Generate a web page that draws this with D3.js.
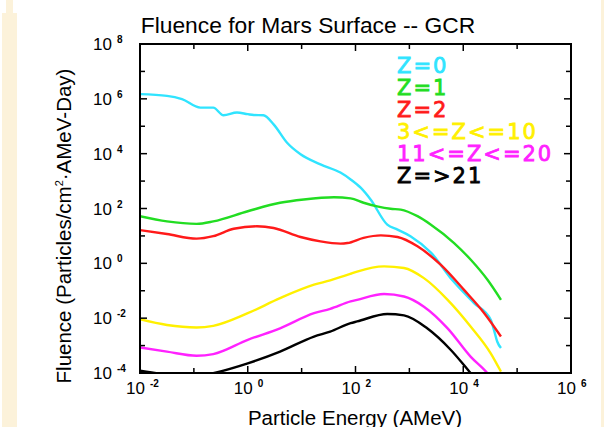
<!DOCTYPE html>
<html><head><meta charset="utf-8">
<script src="https://cdn.jsdelivr.net/npm/d3@7"></script>
<style>
html,body{margin:0;padding:0;background:#fff;}
svg{display:block;}
</style></head>
<body>
<svg id="chart" width="604" height="427"></svg>
<script>
// ---- data (log10 of energy in AMeV, log10 of fluence) ----
const seriesNames = ["Z=0", "Z=1", "Z=2", "3<=Z<=10", "11<=Z<=20", "Z=>21"];
const seriesColors = ["#30E4FF", "#22DD22", "#FF1A1A", "#FFF000", "#FF22FF", "#000000"];

const z0LogE = [-2, -1.5, -1.22, -0.88, -0.64, -0.45, -0.2, 0.0, 0.11, 0.29, 0.48, 0.73, 0.98, 1.35, 1.72, 1.91, 2.1, 2.28, 2.59, 2.78, 3.02, 3.4, 3.8, 4.2, 4.51, 4.57, 4.63, 4.7];
const z0LogF = [6.17, 6.11, 5.99, 5.68, 5.68, 5.40, 5.50, 5.44, 5.41, 5.40, 5.07, 4.40, 3.98, 3.61, 3.31, 3.06, 2.75, 2.33, 1.41, 1.23, 0.99, 0.39, -0.62, -1.45, -2.06, -2.43, -2.85, -3.09];

const z1LogE = [-2, -1.5, -0.95, -0.64, 0.0, 0.6, 1.04, 1.6, 1.91, 2.15, 2.4, 2.65, 2.84, 3.15, 3.4, 3.83, 4.14, 4.45, 4.7];
const z1LogF = [1.72, 1.53, 1.44, 1.53, 1.90, 2.21, 2.33, 2.41, 2.37, 2.21, 2.08, 1.99, 1.96, 1.72, 1.41, 0.74, 0.13, -0.60, -1.33];

const z2LogE = [-2, -1.5, -0.95, -0.64, -0.26, 0.17, 0.48, 0.98, 1.35, 1.72, 1.85, 2.15, 2.47, 2.78, 3.15, 3.58, 4.01, 4.39, 4.7];
const z2LogF = [1.21, 1.07, 0.90, 0.99, 1.26, 1.35, 1.29, 0.96, 0.80, 0.72, 0.74, 0.93, 1.02, 0.96, 0.62, -0.05, -0.96, -1.82, -2.67];

const z3LogE = [-2, -1.5, -0.95, -0.64, 0.0, 0.6, 1.23, 1.53, 1.91, 2.03, 2.53, 2.9, 3.27, 3.71, 4.14, 4.51, 4.7];
const z3LogF = [-2.04, -2.25, -2.34, -2.28, -1.82, -1.27, -0.78, -0.62, -0.38, -0.30, -0.11, -0.17, -0.54, -1.33, -2.31, -3.28, -3.95];

const z11LogE = [-2, -1.5, -0.95, -0.64, 0.0, 0.6, 1.23, 1.53, 1.91, 2.03, 2.53, 2.9, 3.27, 3.71, 4.14, 4.45, 4.6];
const z11LogF = [-3.07, -3.22, -3.37, -3.31, -2.79, -2.37, -1.82, -1.66, -1.39, -1.33, -1.12, -1.21, -1.58, -2.37, -3.41, -4.01, -4.4];

const z21LogE = [-2, -1.63, -1.0, -0.64, 0.0, 0.6, 1.23, 1.53, 1.91, 2.03, 2.59, 2.9, 3.33, 3.77, 4.14, 4.4];
const z21LogF = [-3.92, -4.03, -4.15, -4.01, -3.65, -3.22, -2.67, -2.49, -2.18, -2.12, -1.85, -1.90, -2.37, -3.16, -4.01, -4.6];

const seriesLogE = [z0LogE, z1LogE, z2LogE, z3LogE, z11LogE, z21LogE];
const seriesLogF = [z0LogF, z1LogF, z2LogF, z3LogF, z11LogF, z21LogF];

const xTickExps = [-2, 0, 2, 4, 6];
const yTickExps = [-4, -2, 0, 2, 4, 6, 8];

const titleText = "Fluence for Mars Surface -- GCR";
const xTitle = "Particle Energy (AMeV)";

// ---- layout ----
const svg = d3.select("#chart");
const L = 140, R = 571, T = 44, B = 373;

// cream side strips from the original slide
svg.append("rect").attr("x", 2).attr("y", 13).attr("width", 15).attr("height", 414).attr("fill", "#FCF2DA");
svg.append("rect").attr("x", 6).attr("y", 0).attr("width", 7).attr("height", 13).attr("fill", "#FCF2DA");
svg.append("rect").attr("x", 601).attr("y", 0).attr("width", 3).attr("height", 427).attr("fill", "#FCF2DA");

const x = d3.scaleLog().domain([1e-2, 1e6]).range([L, R]);
const y = d3.scaleLog().domain([1e-4, 1e8]).range([B, T]);

svg.append("clipPath").attr("id", "clip").append("rect")
  .attr("x", L).attr("y", T).attr("width", R - L).attr("height", B - T);

const line = d3.line()
  .x(d => x(d[0])).y(d => y(d[1]))
  .curve(d3.curveMonotoneX);

const gLines = svg.append("g").attr("clip-path", "url(#clip)");
seriesNames.forEach((name, i) => {
  const pts = seriesLogE[i].map((e, j) => [Math.pow(10, e), Math.pow(10, seriesLogF[i][j])]);
  gLines.append("path").datum(pts)
    .attr("d", line)
    .attr("fill", "none")
    .attr("stroke", seriesColors[i])
    .attr("stroke-width", 2.4)
    .attr("stroke-linejoin", "round");
});

// ---- axes (ticks inward on all four sides) ----
const xAllTicks = d3.range(-2, 7).map(e => Math.pow(10, e));
const yAllTicks = d3.range(-4, 9).map(e => Math.pow(10, e));
function tlen(v) { const e = Math.round(Math.log10(v)); return e % 2 === 0 ? 7 : 5; }

const axG = svg.append("g").attr("stroke", "#000").attr("stroke-width", 1.5);
xAllTicks.forEach(v => {
  const l = tlen(v);
  axG.append("line").attr("x1", x(v)).attr("x2", x(v)).attr("y1", B).attr("y2", B - l);
  axG.append("line").attr("x1", x(v)).attr("x2", x(v)).attr("y1", T).attr("y2", T + l);
});
yAllTicks.forEach(v => {
  const l = tlen(v);
  axG.append("line").attr("y1", y(v)).attr("y2", y(v)).attr("x1", L).attr("x2", L + l);
  axG.append("line").attr("y1", y(v)).attr("y2", y(v)).attr("x1", R).attr("x2", R - l);
});
svg.append("rect").attr("x", L).attr("y", T).attr("width", R - L).attr("height", B - T)
  .attr("fill", "none").attr("stroke", "#000").attr("stroke-width", 2);

const font = "'Liberation Sans', Arial, Helvetica, sans-serif";

// y tick labels
yTickExps.forEach(e => {
  svg.append("text").attr("x", 112).attr("y", y(Math.pow(10, e)) + 6)
    .attr("font-family", font).attr("font-size", 17).attr("text-anchor", "end").attr("fill", "#000")
    .text("10");
  svg.append("text").attr("x", 117).attr("y", y(Math.pow(10, e)) - 1)
    .attr("font-family", font).attr("font-size", 10).attr("font-weight", "bold").attr("fill", "#000")
    .text(String(e));
});

// x tick labels
xTickExps.forEach(e => {
  const cx = x(Math.pow(10, e));
  svg.append("text").attr("x", cx + 5).attr("y", 394)
    .attr("font-family", font).attr("font-size", 17).attr("text-anchor", "end").attr("fill", "#000")
    .text("10");
  svg.append("text").attr("x", cx + 10).attr("y", 387)
    .attr("font-family", font).attr("font-size", 10).attr("font-weight", "bold").attr("fill", "#000")
    .text(String(e));
});

// titles
svg.append("text").attr("x", 308).attr("y", 33).attr("text-anchor", "middle")
  .attr("font-family", font).attr("font-size", 22.8).attr("fill", "#000").text(titleText);
svg.append("text").attr("x", 355).attr("y", 425).attr("text-anchor", "middle")
  .attr("font-family", font).attr("font-size", 20.5).attr("fill", "#000").text(xTitle);

const yt = svg.append("text").attr("transform", "translate(71,226) rotate(-90)")
  .attr("text-anchor", "middle").attr("font-family", font).attr("font-size", 20.5).attr("fill", "#000");
yt.append("tspan").text("Fluence (Particles/cm");
yt.append("tspan").attr("font-size", 11).attr("dy", -8).text("2");
yt.append("tspan").attr("dy", 8).text("\u00B7AMeV-Day)");

// legend
seriesNames.forEach((name, i) => {
  svg.append("text").attr("x", 397).attr("y", 73 + i * 22)
    .attr("font-family", "'DejaVu Sans', sans-serif").attr("font-size", 21)
    .attr("letter-spacing", 2)
    .attr("stroke", seriesColors[i]).attr("stroke-width", 0.8)
    .attr("fill", seriesColors[i]).text(name);
});
</script>
</body></html>
